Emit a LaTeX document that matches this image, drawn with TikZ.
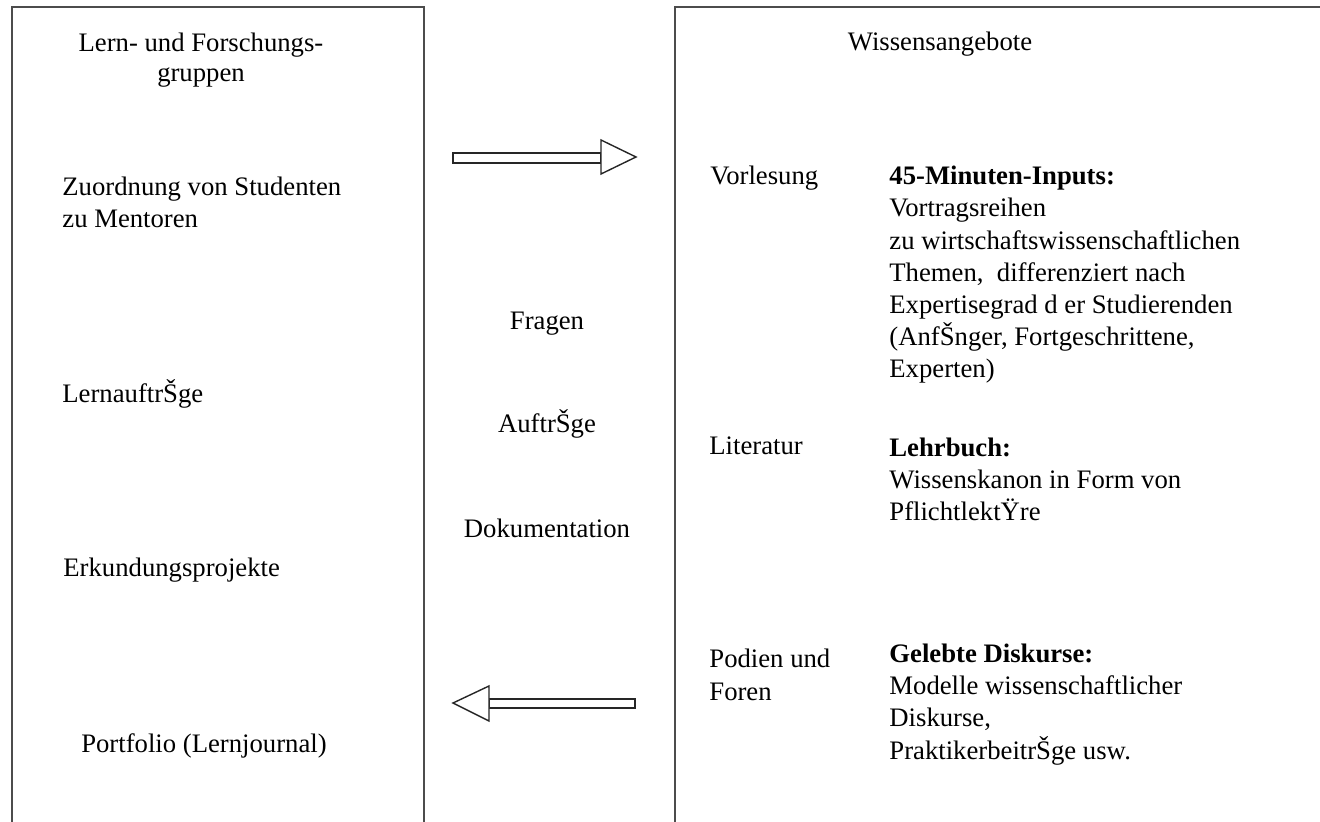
\documentclass[tikz,border=0pt]{standalone}
\usepackage{fontspec}
\setmainfont{Liberation Serif}
\usetikzlibrary{positioning}
\tikzset{%
  mytext/.style={anchor=base west, inner sep=0pt, align=left, font=\fontsize{13.35}{16.1}\selectfont},
  myctext/.style={mytext, anchor=base, align=center},
  myframe/.style={draw=black!70, line width=0.8pt},
  myarrow/.style={draw=black!85, line width=0.7pt, fill=white}
}

\begin{document}
\begin{tikzpicture}[x=0.5pt,y=-0.5pt]
  \useasboundingbox (0,0) rectangle (1320,822);
  % the two columns
  \draw [myframe] (12,822) -- (12,7) -- (424,7) -- (424,822);
  \draw [myframe] (675,822) -- (675,7) -- (1320,7);
  % left column (multi-line nodes sit on their last line)
  \node[myctext, font=\fontsize{13.35}{15}\selectfont] (lfg) at (201,82) {Lern- und Forschungs-\\gruppen};
  \node[mytext] (zuo) at (62,228) {Zuordnung von Studenten\\zu Mentoren};
  \node[mytext] (lern) at (62,403) {LernauftrŠge};
  \node[mytext] (erk) at (63,576) {Erkundungsprojekte};
  \node[myctext] (port) at (204,752) {Portfolio (Lernjournal)};
  % middle
  \node[myctext] (fra) at (547,330) {Fragen};
  \node[myctext] (auf) at (547,433) {AuftrŠge};
  \node[myctext] (dok) at (547,538) {Dokumentation};
  \coordinate (fwdS) at (453,158);
  \coordinate (fwdE) at (636,157);
  \draw [myarrow] (fwdS) ++(0,-5) rectangle ++(148,10);
  \draw [myarrow] (fwdE) -- ++(-35,-17) -- ++(0,34) -- cycle;
  \coordinate (bckS) at (635,703.5);
  \coordinate (bckE) at (453,703);
  \draw [myarrow] (bckS) ++(0,-4.5) rectangle ++(-146,9);
  \draw [myarrow] (bckE) -- ++(36,-17) -- ++(0,35) -- cycle;
  % right column
  \node[myctext] (wis) at (940,51) {Wissensangebote};
  \node[mytext] (vor) at (710,185) {Vorlesung};
  \node[mytext] (inp) at (889,378) {\textbf{45-Minuten-Inputs:}\\Vortragsreihen\\zu wirtschaftswissenschaftlichen\\Themen,\ \ differenziert nach\\Expertisegrad d er Studierenden\\(AnfŠnger, Fortgeschrittene,\\Experten)};
  \node[mytext] (lit) at (709,455) {Literatur};
  \node[mytext] (lehr) at (889,521) {\textbf{Lehrbuch:}\\Wissenskanon in Form von\\PflichtlektŸre};
  \node[mytext] (pod) at (709,700) {Podien und\\Foren};
  \node[mytext] (dis) at (889,759) {\textbf{Gelebte Diskurse:}\\Modelle wissenschaftlicher\\Diskurse,\\PraktikerbeitrŠge usw.};
\end{tikzpicture}
\end{document}
